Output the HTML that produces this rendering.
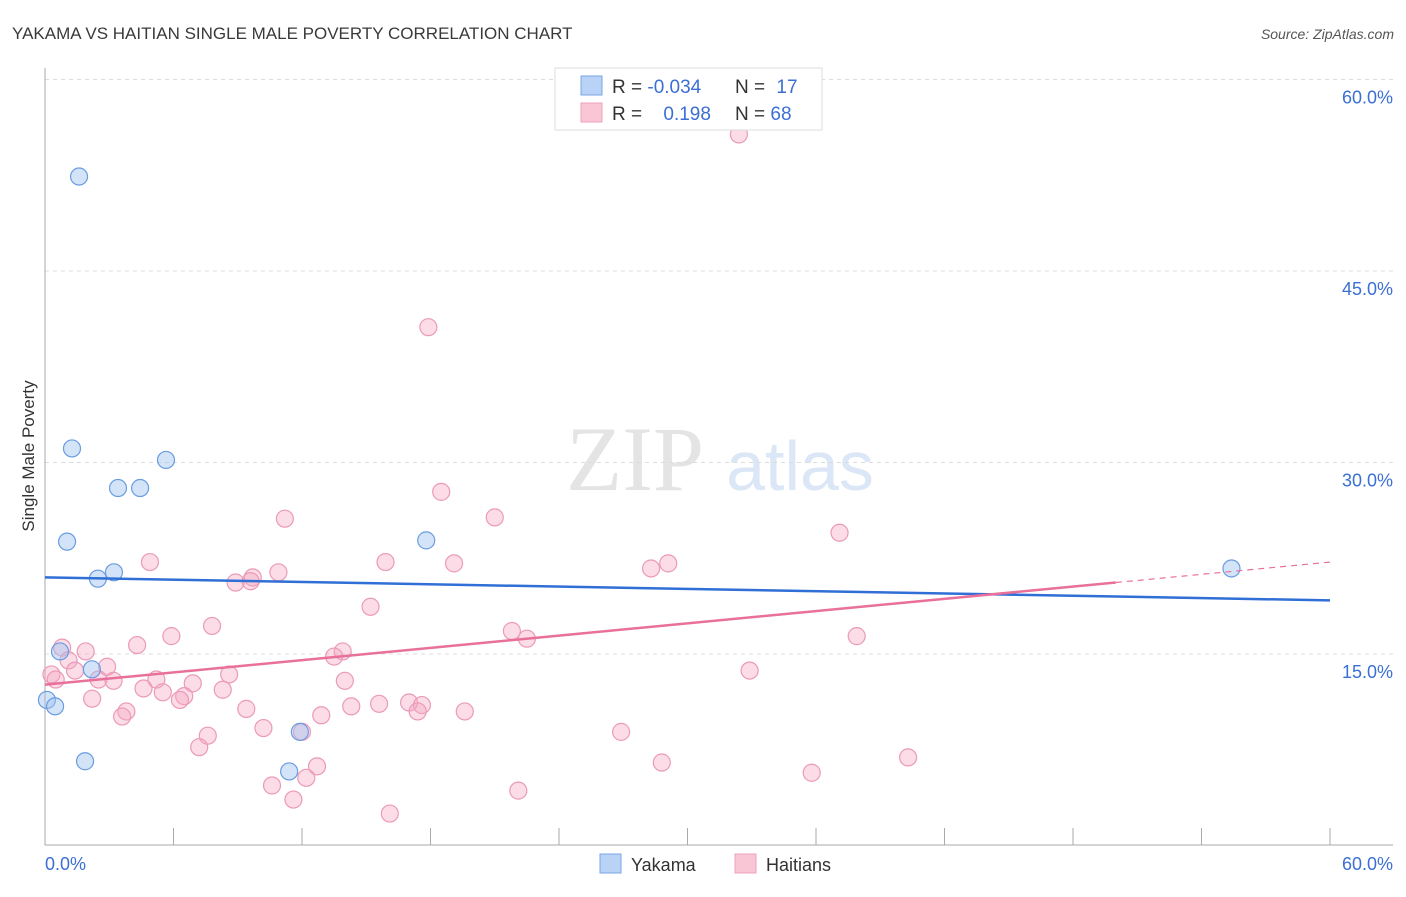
<!DOCTYPE html>
<html><head><meta charset="utf-8"><style>
body{margin:0;background:#fff;font-family:"Liberation Sans",sans-serif}
</style></head><body>
<svg id="c" width="1406" height="892" xmlns="http://www.w3.org/2000/svg" style="font-family:'Liberation Sans',sans-serif">
<text x="12" y="39" font-size="17" fill="#3a3a3a">YAKAMA VS HAITIAN SINGLE MALE POVERTY CORRELATION CHART</text>
<text x="1394" y="39" font-size="14" fill="#555" font-style="italic" text-anchor="end">Source: ZipAtlas.com</text>
<text x="34" y="456" font-size="17" fill="#333" text-anchor="middle" transform="rotate(-90 34 456)">Single Male Poverty</text>
<g><text x="635" y="490" font-size="92" fill="#e4e4e4" text-anchor="middle" font-family="Liberation Serif,serif">ZIP</text><text x="800" y="490" font-size="70" fill="#dbe7f6" text-anchor="middle">atlas</text></g>
<g id="grid"></g><g id="axes"></g><g id="pts"></g><g id="trend"></g>
<g>
<rect x="555" y="68" width="267" height="62" fill="#fff" stroke="#ddd"/>
<rect x="581" y="76" width="21" height="19" fill="#b8d3f5" stroke="#7aa6e6"/>
<rect x="581" y="103" width="21" height="19" fill="#f9c6d6" stroke="#eea0bb"/>
<text x="612" y="93" font-size="19" fill="#333">R = <tspan fill="#3b6fd4">-0.034</tspan></text>
<text x="735" y="93" font-size="19" fill="#333">N = <tspan fill="#3b6fd4" dx="6">17</tspan></text>
<text x="612" y="120" font-size="19" fill="#333">R = <tspan fill="#3b6fd4" dx="16">0.198</tspan></text>
<text x="735" y="120" font-size="19" fill="#333">N = <tspan fill="#3b6fd4">68</tspan></text>
</g>
<g>
<rect x="600" y="854" width="21" height="19" fill="#b8d3f5" stroke="#7aa6e6"/>
<text x="631" y="871" font-size="18" fill="#333">Yakama</text>
<rect x="735" y="854" width="21" height="19" fill="#f9c6d6" stroke="#eea0bb"/>
<text x="766" y="871" font-size="18" fill="#333">Haitians</text>
</g>
</svg>
<script>
const yTicks=[15,30,45,60];
const yTickLabels=["15.0%","30.0%","45.0%","60.0%"];
const xTicks=[0,6,12,18,24,30,36,42,48,54,60];
const yakamaX=[1.59,1.26,5.65,3.41,4.44,1.03,17.8,2.47,3.22,55.4,0.70,2.19,0.09,0.47,1.87,11.9,11.4];
const yakamaY=[52.4,31.1,30.2,28.0,28.0,23.8,23.9,20.9,21.4,21.7,15.2,13.8,11.4,10.9,6.6,8.9,5.8];
const haitiX=[32.4,17.9,18.5,21.0,11.2,37.1,4.9,15.9,19.1,29.1,28.3,10.9,9.7,8.9,9.6,15.2,7.8,21.8,22.5,37.9,5.9,4.3,0.8,1.9,13.9,13.5,1.1,2.9,32.9,0.3,0.5,1.4,2.5,3.2,5.2,8.6,14.0,6.9,4.6,5.5,8.3,6.5,6.3,2.2,17.0,17.6,14.3,15.6,9.4,19.6,17.4,3.8,3.6,12.9,10.2,7.6,26.9,12.0,7.2,40.3,28.8,12.7,12.2,35.8,10.6,11.6,22.1,16.1];
const haitiY=[55.7,40.6,27.7,25.7,25.6,24.5,22.2,22.2,22.1,22.1,21.7,21.4,21.0,20.6,20.7,18.7,17.2,16.8,16.2,16.4,16.4,15.7,15.5,15.2,15.2,14.8,14.5,14.0,13.7,13.4,13.0,13.7,13.0,12.9,13.0,13.4,12.9,12.7,12.3,12.0,12.2,11.7,11.4,11.5,11.2,11.0,10.9,11.1,10.7,10.5,10.5,10.5,10.1,10.2,9.2,8.6,8.9,8.9,7.7,6.9,6.5,6.2,5.3,5.7,4.7,3.6,4.3,2.5];
const yakamaTrend=[21.0,19.2];   // y at x=0 and x=60
const haitiTrend=[12.6,22.2];    // y at x=0 and x=60
const haitiSolidEnd=50;
const X=v=>45+v/60*1285, Y=v=>845.5-v/15*191.5;
const NS="http://www.w3.org/2000/svg";
function mk(p,t,a){const e=document.createElementNS(NS,t);for(const k in a)e.setAttribute(k,a[k]);p.appendChild(e);return e;}
const grid=document.getElementById('grid'),axes=document.getElementById('axes'),pts=document.getElementById('pts'),tr=document.getElementById('trend');
yTicks.forEach((t,i)=>{
 const l=mk(grid,'line',{x1:45,x2:1393,y1:Y(t),y2:Y(t),stroke:'#dcdcdc','stroke-dasharray':'4,4'});
 
 
 const tx=mk(grid,'text',{x:1393,y:Y(t)+24,'text-anchor':'end','font-size':18,fill:'#3b6fd4'});tx.textContent=yTickLabels[i];
 
 
});
mk(axes,'line',{x1:45,x2:45,y1:68,y2:845,stroke:'#aaa'});
mk(axes,'line',{x1:45,x2:1393,y1:845,y2:845,stroke:'#aaa'});
xTicks.forEach(t=>{const l=mk(axes,'line',{x1:X(t),x2:X(t),y1:828,y2:845,stroke:'#aaa'});
 
 });
let a=mk(axes,'text',{x:45,y:870,'font-size':18,fill:'#3b6fd4'});a.textContent='0.0%';


a=mk(axes,'text',{x:1393,y:870,'font-size':18,fill:'#3b6fd4','text-anchor':'end'});a.textContent='60.0%';


haitiX.forEach((x,i)=>{const c=mk(pts,'circle',{cx:X(x),cy:Y(haitiY[i]),r:8.5,fill:'rgba(244,168,196,0.4)',stroke:'#eb9ab8','stroke-width':1.2});
 
 });
yakamaX.forEach((x,i)=>{const c=mk(pts,'circle',{cx:X(x),cy:Y(yakamaY[i]),r:8.5,fill:'rgba(160,196,240,0.45)',stroke:'#6a9ce0','stroke-width':1.2});
 
 });
let l=mk(tr,'line',{x1:X(0),y1:Y(yakamaTrend[0]),x2:X(60),y2:Y(yakamaTrend[1]),stroke:'#2f6fd6','stroke-width':2.5});


const hy=x=>haitiTrend[0]+(haitiTrend[1]-haitiTrend[0])*x/60;
l=mk(tr,'line',{x1:X(0),y1:Y(hy(0)),x2:X(haitiSolidEnd),y2:Y(hy(haitiSolidEnd)),stroke:'#e8709a','stroke-width':2.5});


l=mk(tr,'line',{x1:X(haitiSolidEnd),y1:Y(hy(haitiSolidEnd)),x2:X(60),y2:Y(hy(60)),stroke:'#e8709a','stroke-width':1.2,'stroke-dasharray':'6,5'});


</script>
</body></html>
